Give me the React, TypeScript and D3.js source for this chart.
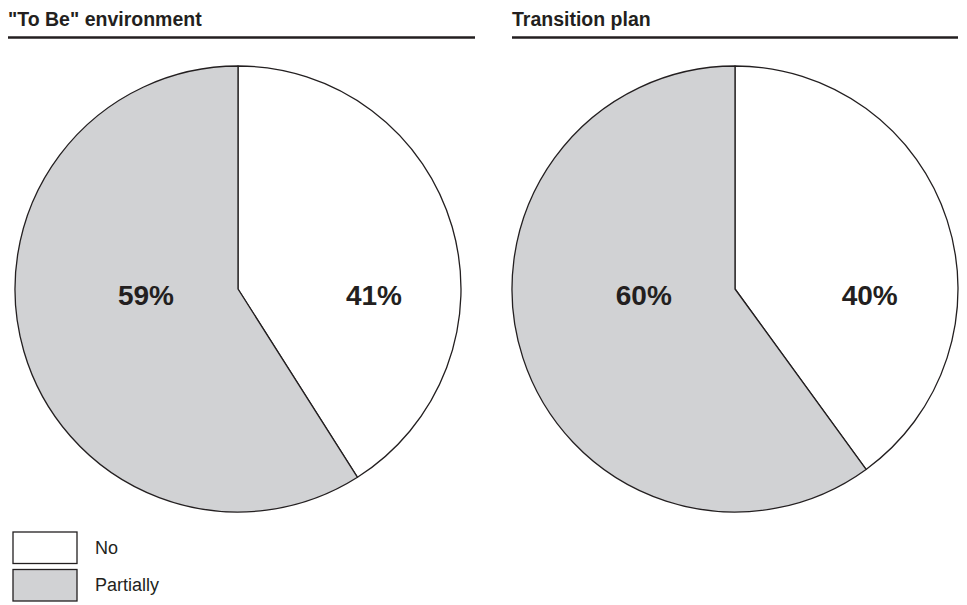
import React from "react";
import * as d3 from "d3";

const categories = ["No", "Partially"];
const panelTitles = ['"To Be" environment', "Transition plan"];
const toBeValues = [41, 59];
const transitionValues = [40, 60];

const W = 967;
const H = 605;
const INK = "#231f20";
const colors: Record<string, string> = { No: "#ffffff", Partially: "#d1d2d4" };
const labelRadiusFrac: Record<string, number> = { No: 0.635, Partially: 0.43 };
const FONT = "Liberation Sans, Arial, Helvetica, sans-serif";

type Panel = { title: string; values: number[]; x0: number; x1: number; cx: number };

const panels: Panel[] = [
  { title: panelTitles[0], values: toBeValues, x0: 8, x1: 475, cx: 238 },
  { title: panelTitles[1], values: transitionValues, x0: 512, x1: 958, cx: 735 },
];

const R = 223;
const CY = 289;

function PiePanel({ p }: { p: Panel }) {
  const data = categories.map((c, i) => ({ cat: c, value: p.values[i] }));
  const pie = d3
    .pie<{ cat: string; value: number }>()
    .value((d) => d.value)
    .sort(null);
  const arcs = pie(data);
  const arc = d3.arc<d3.PieArcDatum<{ cat: string; value: number }>>().innerRadius(0).outerRadius(R);
  return (
    <g>
      <text x={p.x0} y={26} fontFamily={FONT} fontWeight="bold" fontSize={19.5} fill={INK}>
        {p.title}
      </text>
      <line x1={p.x0} x2={p.x1} y1={37.5} y2={37.5} stroke={INK} strokeWidth={2.5} />
      <g transform={`translate(${p.cx},${CY})`}>
        {arcs.map((a, i) => (
          <path key={i} d={arc(a) || ""} fill={colors[a.data.cat]} stroke={INK} strokeWidth={1.3} strokeLinejoin="round" />
        ))}
        {arcs.map((a, i) => {
          const lr = R * labelRadiusFrac[a.data.cat];
          const mid = (a.startAngle + a.endAngle) / 2;
          const lx = Math.sin(mid) * lr;
          return (
            <text
              key={"l" + i}
              x={lx}
              y={16}
              textAnchor="middle"
              fontFamily={FONT}
              fontWeight="bold"
              fontSize={28}
              fill={INK}
            >
              {a.data.value}%
            </text>
          );
        })}
      </g>
    </g>
  );
}

export default function App() {
  const legendY = d3.scaleBand<string>().domain(categories).range([532, 601]).paddingInner(0.16);
  return (
    <div style={{ position: "absolute", left: 0, top: 0 }}>
      <svg width={W} height={H} style={{ display: "block", background: "#fff" }}>
        {panels.map((p, i) => (
          <PiePanel key={i} p={p} />
        ))}
        {categories.map((c) => (
          <g key={c}>
            <rect
              x={13}
              y={legendY(c)}
              width={64}
              height={legendY.bandwidth()}
              fill={colors[c]}
              stroke={INK}
              strokeWidth={1.3}
            />
            <text
              x={95}
              y={(legendY(c) || 0) + legendY.bandwidth() / 2 + 6}
              fontFamily={FONT}
              fontSize={18}
              fill={INK}
            >
              {c}
            </text>
          </g>
        ))}
      </svg>
    </div>
  );
}
